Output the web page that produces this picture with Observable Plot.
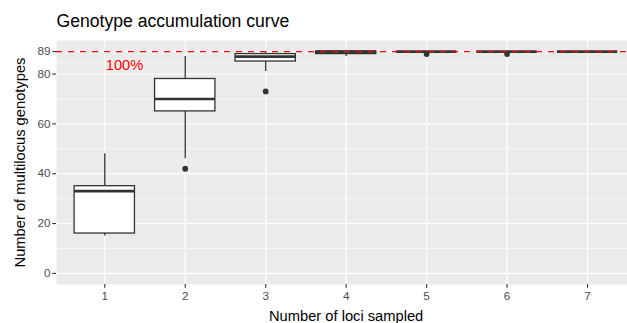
<!DOCTYPE html>
<html><head><meta charset="utf-8">
<script src="https://cdn.jsdelivr.net/npm/d3@7"></script>
<script src="https://cdn.jsdelivr.net/npm/@observablehq/plot@0.6"></script>
<style>html,body{margin:0;padding:0;overflow:hidden;background:#fff}</style>
</head><body><div id="chart"></div>
<script>
// Boxplot summary per number of loci sampled
const loci = ["1", "2", "3", "4", "5", "6", "7"];
const lowerWhisker = [15, 46, 81, 87, 89, 89, 89];
const q1 = [16, 65, 85, 88, 89, 89, 89];
const median = [33, 70, 87, 89, 89, 89, 89];
const q3 = [35, 78, 88, 89, 89, 89, 89];
const upperWhisker = [48, 87, 89, 89, 89, 89, 89];
const outlierLocus = ["2", "3", "5", "6"];
const outlierValue = [42, 73, 88, 88];
const maxGenotypes = 89;
const yTicks = [0, 20, 40, 60, 80, 89];
const yMinor = [10, 30, 50, 70, 84.5];
const titleText = "Genotype accumulation curve";
const xTitle = "Number of loci sampled";
const yTitle = "Number of multilocus genotypes";
const pctLabel = "100%";

const boxes = loci.map((l, i) => ({locus: l, lo: lowerWhisker[i], q1: q1[i], med: median[i], q3: q3[i], hi: upperWhisker[i]}));
const outliers = outlierLocus.map((l, i) => ({locus: l, value: outlierValue[i]}));

const font = "'Liberation Sans', Arial, Helvetica, sans-serif";
const ink = "#333333";

const chart = Plot.plot({
  width: 627,
  height: 323,
  marginLeft: 56,
  marginRight: -8.3,
  marginTop: 40,
  marginBottom: 39,
  style: {fontFamily: font, maxWidth: "none", background: "white", overflow: "hidden"},
  x: {type: "band", domain: loci, paddingInner: 0.25, paddingOuter: 0.225, align: 0.5, round: false, axis: null},
  y: {domain: [-4.45, 93.45], axis: null},
  marks: [
    Plot.frame({fill: "#EBEBEB", stroke: "none"}),
    Plot.ruleY(yMinor, {stroke: "white", strokeWidth: 0.6}),
    Plot.ruleY(yTicks, {stroke: "white", strokeWidth: 1.2}),
    Plot.ruleX(loci, {x: d => d, stroke: "white", strokeWidth: 1.2}),
    Plot.ruleX(boxes, {x: "locus", y1: "lo", y2: "q1", stroke: ink, strokeWidth: 1.3}),
    Plot.ruleX(boxes, {x: "locus", y1: "q3", y2: "hi", stroke: ink, strokeWidth: 1.3}),
    Plot.barY(boxes.filter(d => d.q3 > d.q1), {x: "locus", y1: "q1", y2: "q3", fill: "white", stroke: ink, strokeWidth: 1.3}),
    Plot.tickY(boxes, {x: "locus", y: "med", stroke: ink, strokeWidth: 2.6}),
    Plot.dot(outliers, {x: "locus", y: "value", r: 2.9, fill: ink, stroke: "none"}),
    Plot.ruleY([maxGenotypes], {stroke: "#FF0000", strokeDasharray: "6,6", strokeWidth: 1.4}),
    Plot.text([pctLabel], {x: () => loci[0], y: () => maxGenotypes, text: d => d, textAnchor: "start", lineAnchor: "bottom", dx: 1, dy: 18.7, fill: "#FF0000", fontSize: 14.7}),
    Plot.axisX({tickSize: 3.7, tickPadding: 3, fontSize: 11.7, stroke: ink, fill: "#4D4D4D", strokeWidth: 1.1, label: null}),
    Plot.axisY(yTicks, {tickSize: 3.7, tickPadding: 2.2, fontSize: 11.7, stroke: ink, fill: "#4D4D4D", strokeWidth: 1.1, label: null}),
    Plot.text([xTitle], {frameAnchor: "bottom", text: d => d, lineAnchor: "bottom", dy: 36, fontSize: 14.7, fill: "black", textAnchor: "middle"}),
    Plot.text([yTitle], {frameAnchor: "left", text: d => d, rotate: -90, lineAnchor: "bottom", dx: -31.5, fontSize: 14.7, fill: "black", textAnchor: "middle"}),
    Plot.text([titleText], {frameAnchor: "top-left", text: d => d, lineAnchor: "bottom", dy: -13.3, fontSize: 17.6, fill: "black", textAnchor: "start"})
  ]
});
document.getElementById("chart").appendChild(chart);
</script>
</body></html>
